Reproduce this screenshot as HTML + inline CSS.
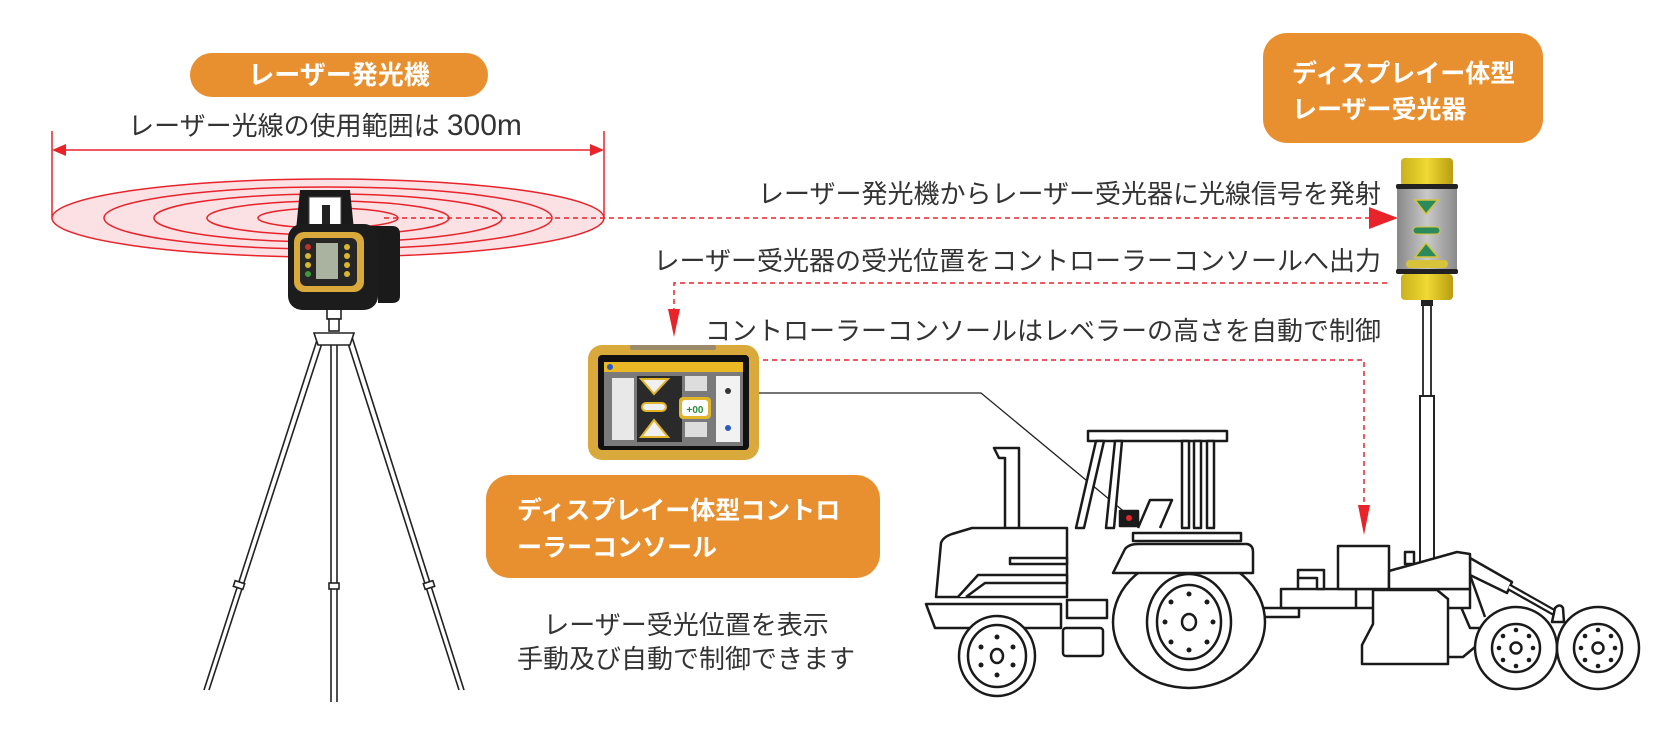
<!DOCTYPE html>
<html><head><meta charset="utf-8"><style>
html,body{margin:0;padding:0;background:#fff;}
svg{display:block;}
text{font-family:"Liberation Sans","Noto Sans CJK JP",sans-serif;}
</style></head><body>
<svg width="1664" height="730" viewBox="0 0 1664 730" xmlns="http://www.w3.org/2000/svg">
<defs>
<linearGradient id="silver" x1="0" x2="1"><stop offset="0" stop-color="#888"/><stop offset="0.5" stop-color="#c9c9c9"/><stop offset="1" stop-color="#8a8a8a"/></linearGradient>
<linearGradient id="yel" x1="0" x2="1"><stop offset="0" stop-color="#c9b21a"/><stop offset="0.5" stop-color="#f0d835"/><stop offset="1" stop-color="#b89e10"/></linearGradient>
</defs>

<rect x="190" y="53" width="298" height="44" rx="22" fill="#e8902f"/>
<text x="339" y="84" font-size="26" font-weight="bold" fill="#fff" text-anchor="middle">レーザー発光機</text>
<text x="325" y="135" font-size="26" fill="#333" text-anchor="middle">レーザー光線の使用範囲は <tspan font-size="30">300m</tspan></text>

<g stroke="#e8232a" stroke-width="1.5" fill="none">
<line x1="52" y1="131" x2="52" y2="218"/>
<line x1="604" y1="131" x2="604" y2="218"/>
<line x1="60" y1="150" x2="596" y2="150"/>
</g>
<polygon points="52,150 66,144 66,156" fill="#e8232a"/>
<polygon points="604,150 590,144 590,156" fill="#e8232a"/>

<g stroke="#e8232a" stroke-width="1.5">
<ellipse cx="328" cy="218" rx="276" ry="39" fill="#fbe1e4"/>
<ellipse cx="328" cy="218" rx="224" ry="31" fill="none"/>
<ellipse cx="328" cy="218" rx="174" ry="24" fill="none"/>
<ellipse cx="328" cy="218" rx="121" ry="17" fill="none"/>
<ellipse cx="328" cy="218" rx="70" ry="10" fill="none"/>
</g>

<g stroke="#222" stroke-width="1.6" fill="#fff">
<line x1="318" y1="337" x2="204" y2="690"/><line x1="324" y1="337" x2="209" y2="690"/>
<line x1="331" y1="337" x2="331" y2="702"/><line x1="337" y1="337" x2="337" y2="702"/>
<line x1="346" y1="337" x2="459" y2="690"/><line x1="352" y1="337" x2="464" y2="690"/>
<rect x="327" y="309" width="14" height="10"/>
<rect x="329" y="319" width="10" height="12"/>
<path d="M314 333 L354 333 L350 345 L318 345 Z"/>
<rect x="234" y="582" width="10" height="6" transform="rotate(18 239 585)"/>
<rect x="329" y="583" width="10" height="6"/>
<rect x="424" y="582" width="10" height="6" transform="rotate(-18 429 585)"/>
</g>

<g>
<path d="M296 230 L300 190 L350 190 L354 230 Z" fill="#1a1a1a"/>
<rect x="309" y="197" width="32" height="28" fill="#fff" stroke="#444"/>
<rect x="322" y="205" width="8" height="20" fill="#222"/>
<path d="M355 226 L392 226 Q400 226 400 234 L400 296 Q400 303 392 303 L378 303 L378 240 L355 240 Z" fill="#1a1a1a"/>
<rect x="288" y="224" width="90" height="86" rx="14" fill="#1c1c1c"/>
<rect x="294" y="232" width="70" height="60" rx="10" fill="#d9a93c"/>
<rect x="300" y="238" width="57" height="48" rx="6" fill="#262626"/>
<rect x="316" y="243" width="22" height="36" fill="#a9b3a0"/>
<circle cx="308" cy="247" r="3" fill="#c0302a"/><circle cx="308" cy="256" r="3" fill="#d7b82c"/>
<circle cx="308" cy="265" r="3" fill="#d7b82c"/><circle cx="308" cy="274" r="3" fill="#3d9a3a"/>
<circle cx="347" cy="247" r="3" fill="#d7b82c"/><circle cx="347" cy="256" r="3" fill="#d7b82c"/>
<circle cx="347" cy="265" r="3" fill="#d7b82c"/><circle cx="347" cy="274" r="3" fill="#d7b82c"/>
</g>

<line x1="384" y1="218" x2="1372" y2="218" stroke="#e8232a" stroke-width="1.5" stroke-dasharray="5,4"/>
<polygon points="1398,218 1369,207 1369,229" fill="#e8232a"/>

<text x="1381" y="203" font-size="26" fill="#333" text-anchor="end">レーザー発光機からレーザー受光器に光線信号を発射</text>
<text x="1381" y="270" font-size="26" fill="#333" text-anchor="end">レーザー受光器の受光位置をコントローラーコンソールへ出力</text>
<text x="1381" y="340" font-size="26" fill="#333" text-anchor="end">コントローラーコンソールはレベラーの高さを自動で制御</text>

<path d="M1387 283 L674 283 L674 312" stroke="#e8232a" stroke-width="1.5" stroke-dasharray="5,4" fill="none"/>
<polygon points="674,337 668,309 680,309" fill="#e8232a"/>
<path d="M763 360 L1364 360 L1364 510" stroke="#e8232a" stroke-width="1.5" stroke-dasharray="5,4" fill="none"/>
<polygon points="1364,535 1358,505 1370,505" fill="#e8232a"/>

<rect x="1263" y="33" width="280" height="110" rx="24" fill="#e8902f"/>
<text x="1292" y="82" font-size="25" font-weight="bold" fill="#fff">ディスプレイー体型</text>
<text x="1292" y="118" font-size="25" font-weight="bold" fill="#fff">レーザー受光器</text>

<rect x="1423" y="300" width="8" height="96" fill="#fff" stroke="#222" stroke-width="1.8"/>
<rect x="1420" y="396" width="14" height="170" fill="#fff" stroke="#222" stroke-width="2"/>

<rect x="1421" y="298" width="12" height="8" fill="#222"/>
<rect x="1401" y="158" width="52" height="28" rx="4" fill="url(#yel)"/>
<rect x="1396" y="184" width="62" height="5" rx="2" fill="#222"/>
<rect x="1397" y="189" width="60" height="81" fill="url(#silver)"/>
<polygon points="1415,200 1438,200 1426,214" fill="#2b8a5b" stroke="#d6c33a" stroke-width="1.5"/>
<rect x="1413" y="227" width="27" height="7" rx="3.5" fill="#2b8a5b" stroke="#d6c33a"/>
<polygon points="1415,257 1438,257 1426,243" fill="#2b8a5b" stroke="#d6c33a" stroke-width="1.5"/>
<rect x="1406" y="260" width="42" height="8" rx="4" fill="#d6c33a"/>
<rect x="1396" y="269" width="62" height="5" rx="2" fill="#222"/>
<rect x="1401" y="274" width="52" height="26" rx="4" fill="url(#yel)"/>

<rect x="588" y="345" width="171" height="115" rx="14" fill="#d9a93c"/>
<rect x="630" y="345" width="86" height="5" rx="2" fill="#9a8a6a"/>
<rect x="598" y="355" width="151" height="95" rx="4" fill="#111"/>
<rect x="604" y="362" width="139" height="10" fill="#e9b824"/>
<rect x="604" y="372" width="139" height="74" fill="#7a7a7a"/>
<rect x="612" y="378" width="22" height="62" fill="#e8e8e8"/>
<rect x="637" y="376" width="45" height="66" fill="#2a2a2a"/>
<polygon points="641,379 668,379 654,394" fill="#f0f0f0" stroke="#e2b42a" stroke-width="2"/>
<rect x="642" y="403" width="24" height="8" rx="4" fill="#f0f0f0" stroke="#e2b42a" stroke-width="2"/>
<polygon points="641,437 668,437 654,420" fill="#f0f0f0" stroke="#e2b42a" stroke-width="2"/>
<rect x="685" y="376" width="22" height="15" fill="#ddd"/>
<rect x="685" y="422" width="22" height="15" fill="#ddd"/>
<rect x="679" y="397" width="32" height="22" rx="4" fill="#e2b42a"/>
<rect x="682" y="400" width="26" height="16" rx="3" fill="#fff"/>
<text x="695" y="413" font-size="10" font-weight="bold" fill="#2b8a3a" text-anchor="middle">+00</text>
<rect x="716" y="376" width="24" height="66" fill="#f2f2f2"/>
<circle cx="728" cy="391" r="3" fill="#333"/>
<circle cx="728" cy="428" r="3" fill="#2a5bc0"/>
<circle cx="610" cy="367" r="3" fill="#2a5bc0"/>

<polyline points="759,393 981,393 1127,514" fill="none" stroke="#222" stroke-width="1.3"/>

<rect x="486" y="475" width="394" height="103" rx="24" fill="#e8902f"/>
<text x="517" y="519" font-size="25" font-weight="bold" fill="#fff">ディスプレイー体型コントロ</text>
<text x="517" y="556" font-size="25" font-weight="bold" fill="#fff">ーラーコンソール</text>

<text x="686" y="634" font-size="26" fill="#333" text-anchor="middle">レーザー受光位置を表示</text>
<text x="686" y="668" font-size="26" fill="#333" text-anchor="middle">手動及び自動で制御できます</text>

<g stroke="#1a1a1a" stroke-width="2.5" fill="#fff" stroke-linejoin="round">
<rect x="1088" y="431" width="139" height="10"/>
<polygon points="1096,441 1104,441 1084,528 1076,528"/>
<polygon points="1115,441 1122,441 1114,528 1106,528"/>
<rect x="1182" y="441" width="7" height="87"/>
<rect x="1194" y="441" width="7" height="87"/>
<rect x="1207" y="441" width="7" height="87"/>
<path d="M1138 528 L1150 500 L1172 500 L1160 528" />
<rect x="1120" y="511" width="18" height="15" fill="#1a1a1a"/>
<path d="M994 448 L1019 448 L1019 531 L1005 531 L1005 458 L999 458 Z"/>
<path d="M936 597 L941 543 Q943 537 952 534 L972 528 L1067 528 L1067 597 Z"/>
<rect x="1010" y="558" width="57" height="6"/>
<path d="M958 597 L978 575 L1067 575 L1067 583 L985 583 L966 597"/>
<path d="M926 604 L1061 604 L1061 628 L935 628 Z"/>
<rect x="1067" y="600" width="40" height="18"/>
<rect x="1063" y="628" width="40" height="28" rx="3"/>
<rect x="1133" y="533" width="108" height="8"/>
<!-- rear linkage -->
<path d="M1455 593 L1470 628 L1480 628" fill="none"/>
<path d="M1470 575 L1485 617" fill="none"/>
<path d="M1448 657 L1463 657 L1475 647" fill="none"/>
<path d="M1470 558 L1512 582 L1507 593 L1470 575 Z"/>
<path d="M1509 587 L1555 613" fill="none" stroke-width="7"/>
<path d="M1509 587 L1555 613" fill="none" stroke="#fff" stroke-width="2.5"/>
<path d="M1552 622 L1555 608 Q1560 603 1563 608 L1564 622 Z"/>
<!-- frame -->
<rect x="1260" y="608" width="39" height="9"/>
<rect x="1281" y="589" width="189" height="19"/>
<line x1="1356" y1="589" x2="1356" y2="608"/>
<path d="M1298 589 L1298 570 L1324 570 L1324 589 L1317 589 L1317 578 L1298 578" />
<rect x="1338" y="546" width="51" height="43"/>
<rect x="1405" y="552" width="9" height="12"/>
<path d="M1389 589 L1389 571 L1457 552 L1470 554 L1470 589 Z"/>
<!-- blade -->
<path d="M1373 590 L1437 590 L1448 599 L1448 664 L1362 664 L1362 645 L1373 624 Z"/>
<!-- wheels -->
<ellipse cx="997" cy="656" rx="38" ry="40"/>
<ellipse cx="997" cy="656" rx="29" ry="31"/>
<ellipse cx="997" cy="656" rx="6" ry="7"/>
<ellipse cx="1189" cy="622" rx="76" ry="66"/>
<ellipse cx="1189" cy="622" rx="42" ry="48"/>
<ellipse cx="1189" cy="622" rx="32" ry="37"/>
<ellipse cx="1189" cy="622" rx="7" ry="8"/>
<path d="M1113 573 L1125 549 Q1129 544 1138 544 L1247 544 Q1253 545 1253 552 L1253 573 Z"/>
<circle cx="1516" cy="648" r="41"/>
<circle cx="1516" cy="648" r="24"/>
<circle cx="1516" cy="648" r="5.5"/>
<circle cx="1598" cy="648" r="41"/>
<circle cx="1598" cy="648" r="24"/>
<circle cx="1598" cy="648" r="5.5"/>
</g>
<g fill="#1a1a1a">
<circle cx="997" cy="637" r="2.5"/><circle cx="997" cy="675" r="2.5"/><circle cx="981" cy="647" r="2.5"/><circle cx="1013" cy="647" r="2.5"/><circle cx="981" cy="665" r="2.5"/><circle cx="1013" cy="665" r="2.5"/>
<circle cx="1189" cy="594" r="2.5"/><circle cx="1189" cy="650" r="2.5"/><circle cx="1171" cy="602" r="2.5"/><circle cx="1207" cy="602" r="2.5"/><circle cx="1165" cy="622" r="2.5"/><circle cx="1213" cy="622" r="2.5"/><circle cx="1171" cy="642" r="2.5"/><circle cx="1207" cy="642" r="2.5"/>
<circle cx="1516" cy="630" r="2.3"/><circle cx="1516" cy="666" r="2.3"/><circle cx="1503" cy="636" r="2.3"/><circle cx="1529" cy="636" r="2.3"/><circle cx="1499" cy="648" r="2.3"/><circle cx="1533" cy="648" r="2.3"/><circle cx="1503" cy="660" r="2.3"/><circle cx="1529" cy="660" r="2.3"/>
<circle cx="1598" cy="630" r="2.3"/><circle cx="1598" cy="666" r="2.3"/><circle cx="1585" cy="636" r="2.3"/><circle cx="1611" cy="636" r="2.3"/><circle cx="1581" cy="648" r="2.3"/><circle cx="1615" cy="648" r="2.3"/><circle cx="1585" cy="660" r="2.3"/><circle cx="1611" cy="660" r="2.3"/>
</g>
<circle cx="1129" cy="518" r="3" fill="#e8232a"/>
</svg>
</body></html>
